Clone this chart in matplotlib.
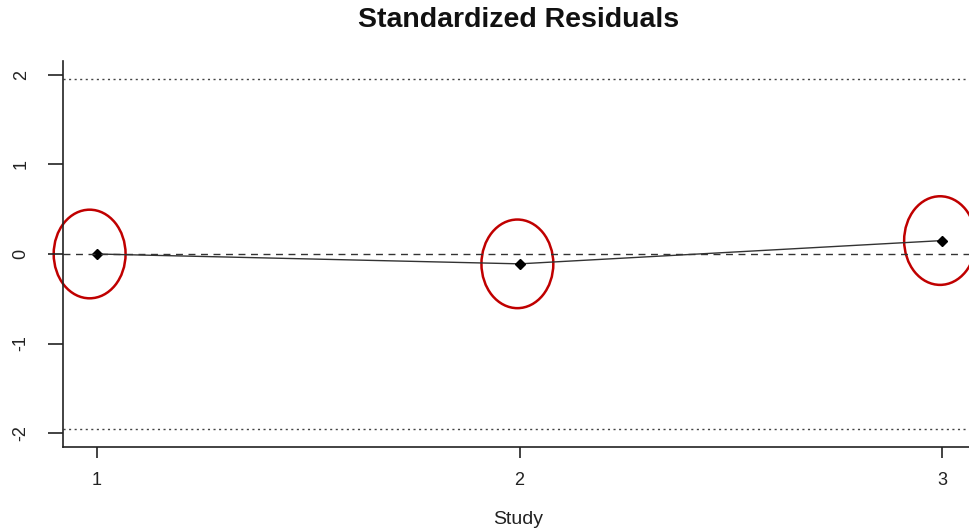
import matplotlib
matplotlib.use("Agg")
import matplotlib.pyplot as plt
from matplotlib.patches import Ellipse

study = [1, 2, 3]
resid = [0.00, -0.11, 0.15]
yticks = [-2, -1, 0, 1, 2]
crit = 1.96

plt.rcParams["font.family"] = ["Liberation Sans", "DejaVu Sans"]

fig = plt.figure(figsize=(9.69, 5.31), dpi=100)
ax = fig.add_axes([63 / 969, 84 / 531, 913 / 969, 386 / 531])

ax.plot(study, resid, color="#333333", lw=1.0, marker="D", ms=5,
        mfc="black", mec="black")
ax.axhline(0, color="#333333", lw=1.0, ls=(0, (5, 4)))
for c in (crit, -crit):
    ax.axhline(c, color="#444444", lw=1.0, ls=(0, (1.5, 2.5)))

# red circles highlighting each study
offsets = [-0.017, -0.005, -0.005]
for x, y, dx in zip(study, resid, offsets):
    ax.add_patch(Ellipse((x + dx, y), width=0.17, height=0.99, fill=False,
                         edgecolor="#C00000", lw=1.8, clip_on=False))

ax.set_xlim(0.92, 3.08)
ax.set_ylim(-2.156, 2.156)
ax.set_xticks(study)
ax.set_yticks(yticks)
ax.set_yticklabels([str(t) for t in yticks], rotation=90, va="center")

for s in ("top", "right"):
    ax.spines[s].set_visible(False)
for s in ("left", "bottom"):
    ax.spines[s].set_color("#222222")
    ax.spines[s].set_linewidth(1.2)

ax.tick_params(axis="x", length=8, width=1.2, color="#222222", pad=10,
               labelsize=13, labelcolor="#222222")
ax.tick_params(axis="y", length=11, width=1.2, color="#222222", pad=13,
               labelsize=13, labelcolor="#222222")

fig.text(518 / 969, 1 - 520 / 531, "Study", ha="center", va="center",
         fontsize=14, color="#222222")
fig.text(519 / 969, 1 - 20 / 531, "Standardized Residuals", ha="center",
         va="center", fontsize=20.5, fontweight="bold", color="#111111")

fig.savefig("out.png", dpi=100)
plt.close(fig)
